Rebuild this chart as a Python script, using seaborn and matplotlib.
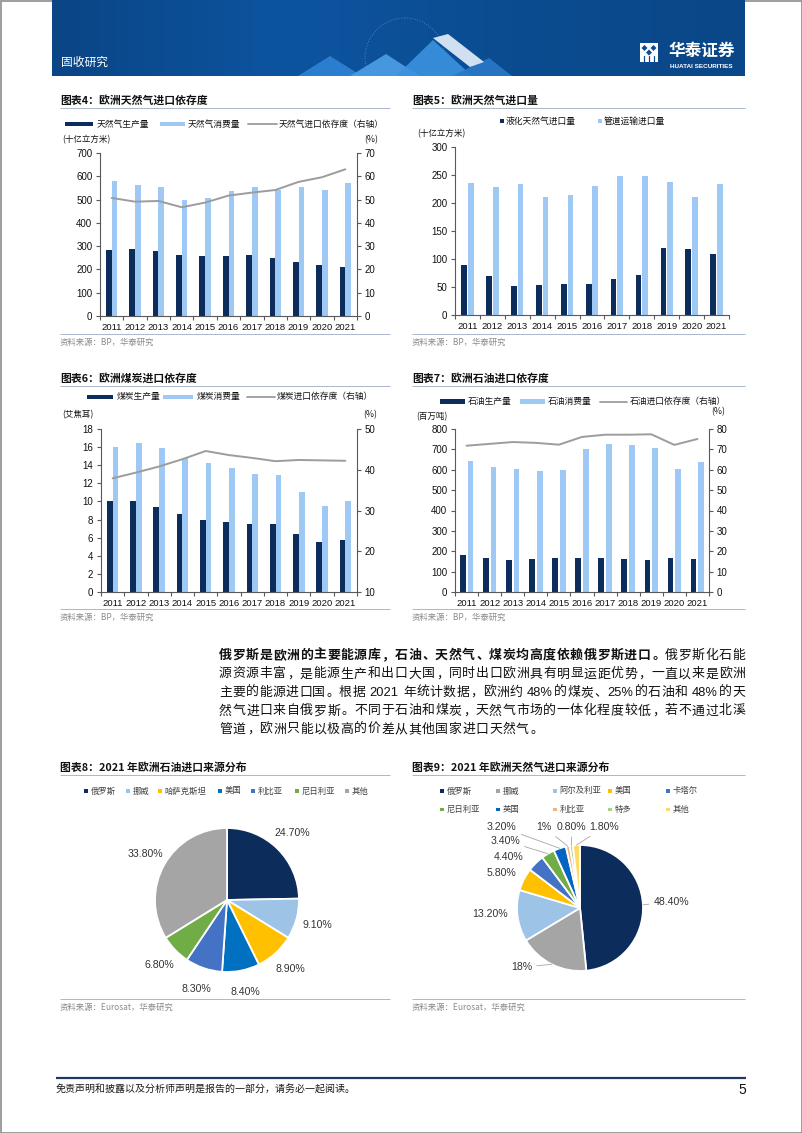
import re
import numpy as np
import pandas as pd
import matplotlib
matplotlib.use("Agg")
import matplotlib.pyplot as plt
import seaborn as sns
from matplotlib.patches import Rectangle, Polygon, Circle
from matplotlib.colors import LinearSegmentedColormap
from matplotlib.ticker import FormatStrFormatter

# ---------------- data ----------------
years = [str(y) for y in range(2011, 2022)]

gas_prod = [284, 287, 279, 264, 259, 259, 261, 250, 233, 217, 210]
gas_cons = [579, 564, 553, 499, 507, 536, 556, 541, 553, 539, 570]
gas_dep = [50.7, 49.1, 49.4, 46.7, 48.7, 51.7, 53.0, 54.1, 57.6, 59.6, 63.0]

lng_imp = [90, 69, 52, 53, 56, 56, 65, 72, 120, 117, 109]
pipe_imp = [235, 229, 234, 210, 215, 231, 248, 248, 237, 211, 234]

coal_prod = [10.0, 10.0, 9.4, 8.6, 7.9, 7.75, 7.5, 7.5, 6.4, 5.5, 5.75]
coal_cons = [16.05, 16.4, 15.85, 14.85, 14.2, 13.7, 13.05, 12.9, 11.05, 9.45, 10.05]
coal_dep = [37.9, 39.3, 40.8, 42.6, 44.6, 43.6, 42.9, 42.1, 42.4, 42.3, 42.2]

oil_prod = [182, 169, 159, 160, 165, 169, 165, 164, 159, 169, 160]
oil_cons = [645, 612, 604, 592, 599, 702, 725, 720, 707, 602, 640]
oil_dep = [71.8, 72.7, 73.6, 73.2, 72.3, 76.1, 77.2, 77.2, 77.4, 72.2, 75.1]

oil_src = ["俄罗斯", "挪威", "哈萨克斯坦", "美国", "利比亚", "尼日利亚", "其他"]
oil_share = [24.7, 9.1, 8.9, 8.4, 8.3, 6.8, 33.8]

gas_src = ["俄罗斯", "挪威", "阿尔及利亚", "美国", "卡塔尔", "尼日利亚", "英国", "利比亚", "特多", "其他"]
gas_share = [48.4, 18, 13.2, 5.8, 4.4, 3.4, 3.2, 1, 0.8, 1.8]

# ---------------- style ----------------
DARK = "#0c2c5c"
LIGHT = "#9dc9f4"
LINEC = "#9c9c9c"
SPINE = "#595959"
TXT = "#111111"
GRAYTXT = "#8a8a8a"
RULE = "#a9b7c9"
oil_colors = [DARK, "#9dc3e6", "#ffc000", "#0070c0", "#4472c4", "#70ad47", "#a5a5a5"]
gas_colors = [DARK, "#a5a5a5", "#9dc3e6", "#ffc000", "#4472c4", "#70ad47", "#0563c1",
              "#f4b183", "#a9d18e", "#ffd966"]

sns.set_theme(style="ticks")
CJK = ["Noto Sans CJK SC", "DejaVu Sans"]
LAT = ["Liberation Sans", "DejaVu Sans"]
plt.rcParams["font.family"] = CJK
plt.rcParams["axes.unicode_minus"] = False

W, H = 802, 1133
fig = plt.figure(figsize=(W / 100, H / 100), dpi=100, facecolor="white")
ov = fig.add_axes([0, 0, 1, 1])
ov.set_xlim(0, W)
ov.set_ylim(H, 0)
ov.axis("off")
renderer = fig.canvas.get_renderer()


def rect(l, t, r, b):
    return [l / W, 1 - b / H, (r - l) / W, (b - t) / H]


def txt(x, y, s, size=6.3, color=TXT, ha="left", va="center", weight="normal", family=CJK, **kw):
    return ov.text(x, y, s, fontsize=size, color=color, ha=ha, va=va,
                   fontweight=weight, family=family, **kw)


def hline(x0, x1, y, color=RULE, lw=0.7):
    ov.plot([x0, x1], [y, y], color=color, lw=lw, solid_capstyle="butt")


# ---------------- page frame / header ----------------
ov.add_patch(Rectangle((0.5, 0.5), W - 1, H - 1, fill=False, ec="#8c8c8c", lw=1.2))

cmap = LinearSegmentedColormap.from_list("bn", ["#0a4585", "#0d54a0", "#0b4c90", "#0a4788"])
grad = np.linspace(0, 1, 300).reshape(1, -1)
ov.imshow(grad, cmap=cmap, extent=(52, 745, 76, 0), aspect="auto", zorder=1)
ov.set_xlim(0, W)
ov.set_ylim(H, 0)
globe = Circle((405, 58), 40, fill=False, ec="#8fc0ee", lw=0.6, ls=(0, (1, 2)), alpha=0.6, zorder=2)
ov.add_patch(globe)
globe.set_clip_path(Rectangle((52, 0), 693, 76, transform=ov.transData))
for pts, col, a in [
    ([(298, 76), (330, 56), (362, 76)], "#2f83d4", 0.9),
    ([(350, 76), (386, 54), (420, 76)], "#4c9fe6", 0.9),
    ([(396, 76), (433, 40), (472, 76)], "#3a92e0", 0.9),
    ([(452, 76), (489, 58), (512, 76)], "#2a78c8", 0.9),
    ([(433, 38), (448, 34), (484, 62), (470, 67)], "#dde9f6", 0.95),
]:
    ov.add_patch(Polygon(pts, closed=True, fc=col, ec="none", alpha=a, zorder=3))
txt(61, 62, "固收研究", size=8.5, color="white", zorder=4)
# logo
ov.add_patch(Rectangle((640, 43), 18, 19, fc="white", ec="none", zorder=4))
for cx, cy in [(644.5, 48), (653.5, 48), (649, 52.5)]:
    ov.add_patch(Polygon([(cx, cy - 3), (cx + 3, cy), (cx, cy + 3), (cx - 3, cy)],
                         fc="#0b4c90", ec="none", zorder=5))
for lx in [644, 649, 654]:
    ov.plot([lx, lx], [56, 62], color="#0b4c90", lw=0.9, zorder=5)
txt(669, 51, "华泰证券", size=12, color="white", weight="bold", zorder=4)
txt(670, 67, "HUATAI SECURITIES", size=4.6, color="white", weight="bold", family=LAT, zorder=4)


# ---------------- helpers for panels ----------------
def section(x0, x1, y, title):
    txt(x0, y, title, size=7.8, weight="bold")
    hline(x0, x1, y + 8)


def source(x0, x1, y, s):
    hline(x0, x1, y - 8)
    txt(x0, y, s, size=6, color=GRAYTXT)


def leg_rect(x0, x1, y, color, h=4.2):
    ov.add_patch(Rectangle((x0, y - h / 2), x1 - x0, h, fc=color, ec="none"))


def leg_line(x0, x1, y, color):
    ov.plot([x0, x1], [y, y], color=color, lw=1.3)


def leg_sq(x, y, color, s=3.6):
    ov.add_patch(Rectangle((x - s / 2, y - s / 2), s, s, fc=color, ec="none"))


def style_axis(ax, side="left"):
    for s in ["top", "right", "left", "bottom"]:
        ax.spines[s].set_visible(False)
    ax.spines[side].set_visible(True)
    ax.spines[side].set_color(SPINE)
    ax.spines[side].set_linewidth(0.8)
    ax.tick_params(axis="y", which="both", direction="out", length=3, width=0.8,
                   color=SPINE, labelsize=7, pad=2.5, labelcolor=TXT,
                   labelfontfamily="Liberation Sans",
                   left=(side == "left"), right=(side == "right"),
                   labelleft=(side == "left"), labelright=(side == "right"))
    ax.yaxis.set_major_formatter(FormatStrFormatter("%d"))


def bar_panel(box, prod, cons, ylim, ystep, width, gap, dep=None, rlim=None, rstep=None):
    ax = fig.add_axes(rect(*box))
    ax.patch.set_alpha(0)
    df = pd.DataFrame({
        "year": years + years,
        "value": list(prod) + list(cons),
        "series": ["prod"] * len(years) + ["cons"] * len(years),
    })
    sns.barplot(data=df, x="year", y="value", hue="series", palette=[DARK, LIGHT],
                width=width, gap=gap, saturation=1, errorbar=None, legend=False,
                linewidth=0, ax=ax)
    ax.set_ylim(*ylim)
    ax.set_yticks(np.arange(ylim[0], ylim[1] + ystep / 2, ystep))
    style_axis(ax, "left")
    ax.spines["bottom"].set_visible(True)
    ax.spines["bottom"].set_color(SPINE)
    ax.spines["bottom"].set_linewidth(0.8)
    ax.set_xticks(np.arange(len(years)))
    ax.set_xticklabels(years)
    ax.set_xticks(np.arange(-0.5, len(years), 1), minor=True)
    ax.tick_params(axis="x", which="major", length=0, labelsize=6.8, pad=5,
                   labelcolor=TXT, labelfontfamily="Liberation Sans")
    ax.tick_params(axis="x", which="minor", length=3, width=0.8, color=SPINE, direction="out")
    ax.set_xlabel("")
    ax.set_ylabel("")
    if dep is not None:
        ax2 = ax.twinx()
        ax2.patch.set_alpha(0)
        sns.lineplot(x=np.arange(len(years)), y=dep, ax=ax2, color=LINEC, linewidth=1.4)
        ax2.set_ylim(*rlim)
        ax2.set_yticks(np.arange(rlim[0], rlim[1] + rstep / 2, rstep))
        style_axis(ax2, "right")
        ax2.set_xlabel("")
        ax2.set_ylabel("")
    ax.set_xlim(-0.5, len(years) - 0.5)
    return ax


# ---------------- row 1 ----------------
section(60, 390, 100, "图表4：欧洲天然气进口依存度")
section(412, 745, 100, "图表5：欧洲天然气进口量")

leg_rect(65, 93, 124, DARK)
txt(96.5, 124, "天然气生产量")
leg_rect(160, 185, 124, LIGHT)
txt(188, 124, "天然气消费量")
leg_line(248, 277, 124, LINEC)
txt(279, 124, "天然气进口依存度（右轴）")
txt(62, 139.5, "(十亿立方米)", size=6.1)
txt(364, 139.5, "(%)", size=6.3)

bar_panel((100, 153, 357, 316), gas_prod, gas_cons, (0, 700), 100, 0.49, 0,
          dep=gas_dep, rlim=(0, 70), rstep=10)

leg_sq(502, 121, DARK)
txt(506, 121, "液化天然气进口量")
leg_sq(600, 121, LIGHT)
txt(604, 121, "管道运输进口量")
txt(417, 133.5, "(十亿立方米)", size=6.1)

bar_panel((455, 147, 729, 315), lng_imp, pipe_imp, (0, 300), 50, 0.53, 0.13)

source(60, 390, 342, "资料来源：BP，华泰研究")
source(412, 745, 342, "资料来源：BP，华泰研究")

# ---------------- row 2 ----------------
section(60, 390, 378, "图表6：欧洲煤炭进口依存度")
section(412, 745, 378, "图表7：欧洲石油进口依存度")

leg_rect(87, 113, 397, DARK)
txt(117, 397, "煤炭生产量")
leg_rect(163, 193, 397, LIGHT)
txt(197, 397, "煤炭消费量")
leg_line(247, 275, 397, LINEC)
txt(277, 397, "煤炭进口依存度（右轴）")
txt(62, 415, "(艾焦耳)", size=6.1)
txt(363, 415, "(%)", size=6.3)

bar_panel((101, 429, 357, 592), coal_prod, coal_cons, (0, 18), 2, 0.49, 0,
          dep=coal_dep, rlim=(10, 50), rstep=10)

leg_rect(440, 465, 401.5, DARK)
txt(468, 401.5, "石油生产量")
leg_rect(520, 545, 401.5, LIGHT)
txt(548, 401.5, "石油消费量")
leg_line(600, 627, 401.5, LINEC)
txt(630, 401.5, "石油进口依存度（右轴）")
txt(416, 416.5, "(百万吨)", size=6.1)
txt(711, 412, "(%)", size=6.3)

bar_panel((455, 429, 709, 592), oil_prod, oil_cons, (0, 800), 100, 0.67, 0.27,
          dep=oil_dep, rlim=(0, 80), rstep=10)

source(60, 390, 617, "资料来源：BP，华泰研究")
source(412, 745, 617, "资料来源：BP，华泰研究")

# ---------------- paragraph ----------------
PUNCT = "，、。：；"


def para_line(segs, y, x0=219, x1=745, size=9.3, extra=None):
    em = size * 100 / 72
    items = []
    for s, wt in segs:
        for m in re.finditer(r"[A-Za-z0-9%.]+| |.", s):
            items.append((m.group(), wt))
    widths, arts = [], []
    for tok, wt in items:
        if tok == " ":
            widths.append(0.22 * em)
            arts.append(None)
        elif re.match(r"[A-Za-z0-9%.]", tok):
            t = ov.text(0, 0, tok, fontsize=size, fontweight=wt, family=LAT,
                        va="baseline", ha="left", color=TXT)
            widths.append(t.get_window_extent(renderer).width + 0.1 * em)
            arts.append(t)
        else:
            ha = "left" if tok in PUNCT else "center"
            t = ov.text(0, 0, tok, fontsize=size, fontweight=wt, family=CJK,
                        va="baseline", ha=ha, color=TXT)
            widths.append(em)
            arts.append(t)
    n = len(items)
    if extra is None:
        extra = (x1 - x0 - sum(widths)) / (n - 1)
    x = x0
    base = y + 0.38 * em
    for (tok, wt), w, t in zip(items, widths, arts):
        if t is not None:
            if tok in PUNCT:
                t.set_position((x + 0.08 * em, base))
            elif t.get_horizontalalignment() == "center":
                t.set_position((x + w / 2, base))
            else:
                t.set_position((x + 0.05 * em, base))
        x += w + extra
    return extra


para_line([("俄罗斯是欧洲的主要能源库，石油、天然气、煤炭均高度依赖俄罗斯进口。", "bold"),
           ("俄罗斯化石能", "normal")], 654)
ex = para_line([("源资源丰富，是能源生产和出口大国，同时出口欧洲具有明显运距优势，一直以来是欧洲", "normal")], 672.5)
para_line([("主要的能源进口国。根据 2021 年统计数据，欧洲约 48%的煤炭、25%的石油和 48%的天", "normal")], 691)
para_line([("然气进口来自俄罗斯。不同于石油和煤炭，天然气市场的一体化程度较低，若不通过北溪", "normal")], 709.5)
para_line([("管道，欧洲只能以极高的价差从其他国家进口天然气。", "normal")], 728, extra=ex)

# ---------------- row 3: pies ----------------
section(60, 390, 767, "图表8：2021 年欧洲石油进口来源分布")
section(412, 745, 767, "图表9：2021 年欧洲天然气进口来源分布")


def pct(v):
    return f"{v:g}%" if float(v).is_integer() else f"{v:.2f}%"


# legend pie 8
for lab, col, x in zip(oil_src, oil_colors, [86, 128, 160, 220, 253, 297, 347]):
    leg_sq(x, 791, col, s=3.2)
    txt(x + 4.8, 791, lab, size=6, color="#404040")

# legend pie 9 (two rows of five)
gx = [442, 498, 555, 610, 668]
for i, (lab, col) in enumerate(zip(gas_src, gas_colors)):
    x = gx[i % 5]
    y = 791 if i < 5 else 809.5
    leg_sq(x, y, col, s=3.2)
    txt(x + 4.8, y, lab, size=6, color="#404040")


def pie_panel(cx, cy, r, shares, colors):
    ax = fig.add_axes(rect(cx - r, cy - r, cx + r, cy + r))
    wedges, _ = ax.pie(shares, colors=colors, startangle=90, counterclock=False,
                       wedgeprops=dict(edgecolor="white", linewidth=1.3))
    ax.set_xlim(-1, 1)
    ax.set_ylim(-1, 1)
    ax.set_aspect("equal")
    return ax, wedges


PIE_FS = 7.6

ax8, w8 = pie_panel(227, 900, 72, oil_share, oil_colors)
for w, v in zip(w8, oil_share):
    th = np.deg2rad((w.theta1 + w.theta2) / 2)
    ax8.text(1.3 * np.cos(th), 1.3 * np.sin(th), pct(v), ha="center", va="center",
             fontsize=PIE_FS, color="#333333", family=LAT)

# label anchor layout for pie 9 (radius units from centre) and leader-line flags
GAS_LABEL_XY = [(1.45, 0.10), (-0.93, -0.94), (-1.43, -0.09), (-1.24, 0.56), (-1.14, 0.81),
                (-1.19, 1.07), (-1.24, 1.28), (-0.57, 1.28), (-0.13, 1.28), (0.38, 1.28)]
GAS_LEADER = [True, True, False, False, False, True, True, True, True, True]

ax9, w9 = pie_panel(580, 908, 63, gas_share, gas_colors)
for w, v, (lx, ly), lead in zip(w9, gas_share, GAS_LABEL_XY, GAS_LEADER):
    th = np.deg2rad((w.theta1 + w.theta2) / 2)
    if lead:
        ax9.annotate(pct(v), xy=(np.cos(th), np.sin(th)), xytext=(lx, ly),
                     ha="center", va="center", fontsize=PIE_FS, color="#333333", family=LAT,
                     arrowprops=dict(arrowstyle="-", color="#a6a6a6", lw=0.6,
                                     shrinkA=1, shrinkB=0))
    else:
        ax9.text(lx, ly, pct(v), ha="center", va="center", fontsize=PIE_FS,
                 color="#333333", family=LAT)

source(60, 390, 1007, "资料来源：Eurosat，华泰研究")
source(412, 745, 1007, "资料来源：Eurosat，华泰研究")

# ---------------- footer ----------------
hline(56, 746, 1077.5, color="#1f3864", lw=1.6)
txt(56, 1090, "免责声明和披露以及分析师声明是报告的一部分，请务必一起阅读。", size=7.2, color="#1a1a1a")
txt(746, 1090, "5", size=10, ha="right", family=LAT)

fig.savefig("out.png", dpi=100, facecolor="white")
